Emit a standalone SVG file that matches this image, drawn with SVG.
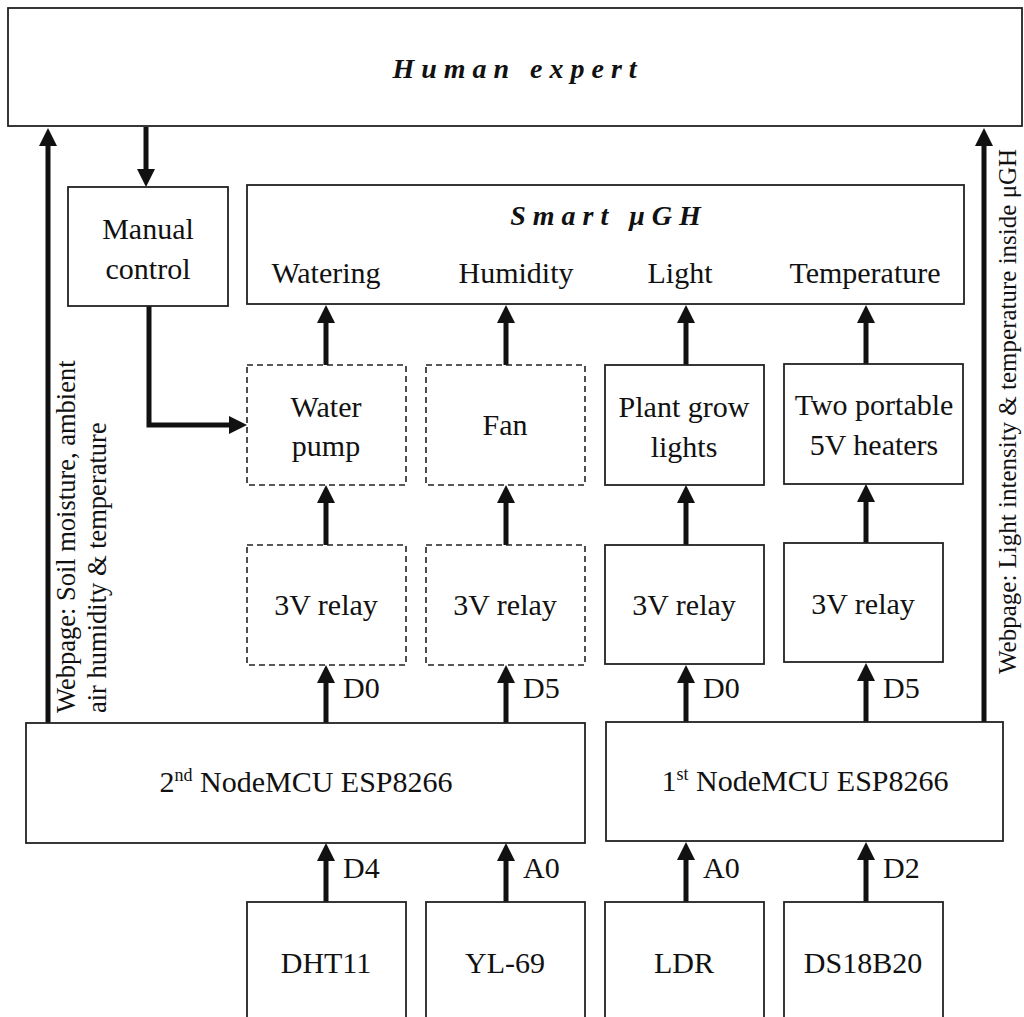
<svg xmlns="http://www.w3.org/2000/svg" width="1024" height="1017" viewBox="0 0 1024 1017">
<defs>
<style>
.box{fill:#fff;stroke:#222;stroke-width:1.8}
.dash{fill:#fff;stroke:#222;stroke-width:1.6;stroke-dasharray:6 4}
.t{font-family:"Liberation Serif","Times New Roman",serif;font-size:30px;fill:#111;text-anchor:middle}
.lab{font-family:"Liberation Serif","Times New Roman",serif;font-size:30px;fill:#111}
.title{font-family:"Liberation Serif","Times New Roman",serif;font-size:28px;font-weight:bold;font-style:italic;letter-spacing:7px;fill:#111;text-anchor:middle}
.rot{font-family:"Liberation Serif","Times New Roman",serif;fill:#111}
.arr{fill:none;stroke:#111;stroke-width:5;marker-end:url(#ah)}
</style>
<marker id="ah" viewBox="0 0 18 18" markerWidth="18" markerHeight="18" markerUnits="userSpaceOnUse" refX="6" refY="9" orient="auto">
<path d="M0,0 L18,9 L0,18 z" fill="#111"/>
</marker>
</defs>
<rect width="1024" height="1017" fill="#fff"/>

<g id="connectors">
<line class="arr" x1="146" y1="127" x2="146" y2="175"/>
<path class="arr" d="M149,306 V425 H235" stroke-linejoin="miter"/>
<line class="arr" x1="48" y1="723" x2="48" y2="140"/>
<line class="arr" x1="984" y1="722" x2="984" y2="140"/>
<line class="arr" x1="326" y1="365" x2="326" y2="317"/>
<line class="arr" x1="506" y1="365" x2="506" y2="317"/>
<line class="arr" x1="686" y1="365" x2="686" y2="317"/>
<line class="arr" x1="866" y1="364" x2="866" y2="317"/>
<line class="arr" x1="326" y1="545" x2="326" y2="497"/>
<line class="arr" x1="506" y1="545" x2="506" y2="497"/>
<line class="arr" x1="686" y1="545" x2="686" y2="497"/>
<line class="arr" x1="866" y1="543" x2="866" y2="496"/>
<line class="arr" x1="326" y1="723" x2="326" y2="677"/>
<line class="arr" x1="506" y1="723" x2="506" y2="677"/>
<line class="arr" x1="686" y1="722" x2="686" y2="677"/>
<line class="arr" x1="866" y1="722" x2="866" y2="675"/>
<line class="arr" x1="326" y1="902" x2="326" y2="855"/>
<line class="arr" x1="506" y1="902" x2="506" y2="855"/>
<line class="arr" x1="686" y1="902" x2="686" y2="854"/>
<line class="arr" x1="866" y1="902" x2="866" y2="854"/>
<text class="lab" x="343" y="698">D0</text>
<text class="lab" x="523" y="698">D5</text>
<text class="lab" x="703" y="698">D0</text>
<text class="lab" x="883" y="698">D5</text>
<text class="lab" x="343" y="878">D4</text>
<text class="lab" x="523" y="878">A0</text>
<text class="lab" x="703" y="878">A0</text>
<text class="lab" x="883" y="878">D2</text>
<text class="rot" font-size="26.5" transform="translate(75,713) rotate(-90)">Webpage: Soil moisture, ambient</text>
<text class="rot" font-size="26.5" transform="translate(106,713) rotate(-90)">air humidity &amp; temperature</text>
<text class="rot" font-size="25" transform="translate(1016,674) rotate(-90)">Webpage: Light intensity &amp; temperature inside μGH</text>
</g>

<g id="human-expert">
<rect class="box" x="8" y="8" width="1014" height="118"/>
<text class="title" x="518" y="78">Human expert</text>
</g>

<g id="manual-control">
<rect class="box" x="68" y="187" width="160" height="119"/>
<text class="t" x="148" y="239">Manual</text>
<text class="t" x="148" y="279">control</text>
</g>

<g id="smart-ugh">
<rect class="box" x="247" y="185" width="717" height="119"/>
<text class="title" x="609" y="225">Smart μGH</text>
<text class="t" x="326" y="283">Watering</text>
<text class="t" x="516" y="283">Humidity</text>
<text class="t" x="680" y="283">Light</text>
<text class="t" x="865" y="283">Temperature</text>
</g>

<g id="water-pump">
<rect class="dash" x="247" y="365" width="159" height="120"/>
<text class="t" x="326" y="417">Water</text>
<text class="t" x="326" y="456">pump</text>
</g>
<g id="fan">
<rect class="dash" x="426" y="365" width="159" height="120"/>
<text class="t" x="505" y="435">Fan</text>
</g>
<g id="grow-lights">
<rect class="box" x="605" y="365" width="159" height="120"/>
<text class="t" x="684" y="417">Plant grow</text>
<text class="t" x="684" y="457">lights</text>
</g>
<g id="heaters">
<rect class="box" x="784" y="364" width="179" height="120"/>
<text class="t" x="874" y="415">Two portable</text>
<text class="t" x="874" y="455">5V heaters</text>
</g>

<g id="relay-1">
<rect class="dash" x="247" y="545" width="159" height="120"/>
<text class="t" x="326" y="615">3V relay</text>
</g>
<g id="relay-2">
<rect class="dash" x="426" y="545" width="159" height="120"/>
<text class="t" x="505" y="615">3V relay</text>
</g>
<g id="relay-3">
<rect class="box" x="605" y="545" width="159" height="119"/>
<text class="t" x="684" y="615">3V relay</text>
</g>
<g id="relay-4">
<rect class="box" x="784" y="543" width="159" height="119"/>
<text class="t" x="863" y="614">3V relay</text>
</g>

<g id="nodemcu-2">
<rect class="box" x="26" y="723" width="559" height="120"/>
<text class="t" x="306" y="792">2<tspan font-size="18" dy="-11">nd</tspan><tspan dy="11"> NodeMCU ESP8266</tspan></text>
</g>
<g id="nodemcu-1">
<rect class="box" x="606" y="722" width="397" height="119"/>
<text class="t" x="805" y="791">1<tspan font-size="18" dy="-11">st</tspan><tspan dy="11"> NodeMCU ESP8266</tspan></text>
</g>

<g id="dht11">
<rect class="box" x="247" y="902" width="159" height="130"/>
<text class="t" x="326" y="973">DHT11</text>
</g>
<g id="yl69">
<rect class="box" x="426" y="902" width="159" height="130"/>
<text class="t" x="505" y="973">YL-69</text>
</g>
<g id="ldr">
<rect class="box" x="605" y="902" width="159" height="130"/>
<text class="t" x="684" y="973">LDR</text>
</g>
<g id="ds18b20">
<rect class="box" x="784" y="902" width="159" height="130"/>
<text class="t" x="863" y="973">DS18B20</text>
</g>
</svg>
